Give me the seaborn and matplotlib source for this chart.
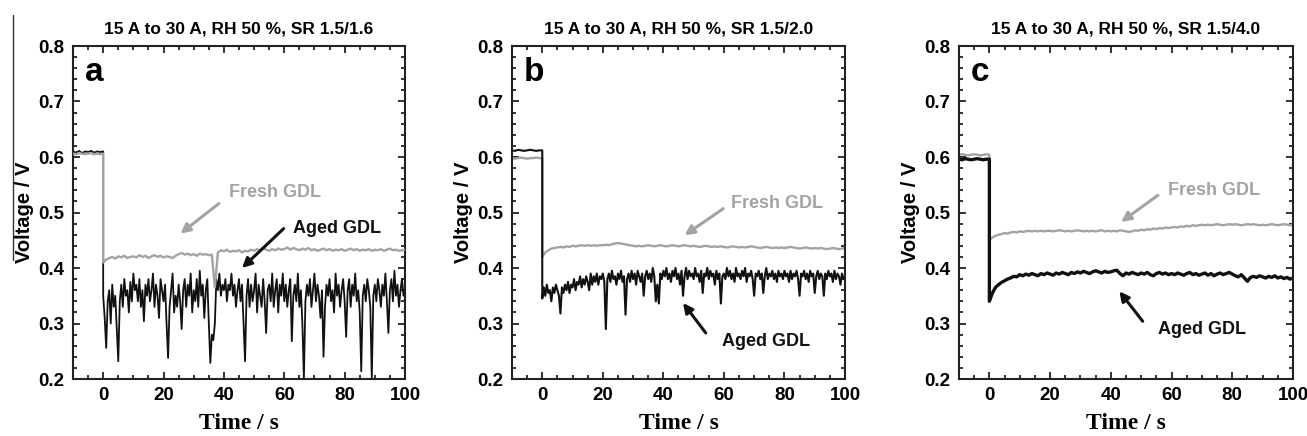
import numpy as np
import pandas as pd
import matplotlib.pyplot as plt
import matplotlib.lines as mlines
from matplotlib.ticker import MultipleLocator
import seaborn as sns

# panel titles and letters
titles = ["15 A to 30 A, RH 50 %, SR 1.5/1.6",
          "15 A to 30 A, RH 50 %, SR 1.5/2.0",
          "15 A to 30 A, RH 50 %, SR 1.5/4.0"]
letters = ["a", "b", "c"]

# sample times (s): before the load step, then after it
t_pre = list(range(-10, 1))                  # 1 s steps
t_post_1s = list(range(0, 101))              # 1 s steps
t_post_05 = [i / 2 for i in range(0, 201)]   # 0.5 s steps

# ---- panel a (SR 1.5/1.6) ----
a_fresh_pre = [0.606, 0.605, 0.607, 0.606, 0.605, 0.606, 0.607, 0.605, 0.606, 0.605, 0.606]
a_aged_pre = [0.610, 0.608, 0.611, 0.607, 0.610, 0.609, 0.611, 0.608, 0.610, 0.609, 0.610]
a_fresh = [0.410, 0.415, 0.418, 0.420, 0.417, 0.421, 0.419, 0.422, 0.418, 0.420,
           0.421, 0.419, 0.423, 0.420, 0.422, 0.418, 0.421, 0.423, 0.420, 0.422,
           0.419, 0.421, 0.420, 0.418, 0.422, 0.425, 0.427, 0.424, 0.426, 0.423,
           0.425, 0.422, 0.426, 0.424, 0.425, 0.423, 0.424, 0.365, 0.428, 0.432,
           0.430, 0.433, 0.429, 0.431, 0.430, 0.432, 0.428, 0.431, 0.430, 0.433,
           0.431, 0.434, 0.432, 0.436, 0.433, 0.431, 0.434, 0.432, 0.435, 0.433,
           0.434, 0.437, 0.433, 0.436, 0.434, 0.432, 0.435, 0.433, 0.436, 0.432,
           0.434, 0.431, 0.433, 0.435, 0.432, 0.434, 0.431, 0.433, 0.432, 0.434,
           0.431, 0.433, 0.435, 0.432, 0.434, 0.431, 0.433, 0.432, 0.434, 0.431,
           0.433, 0.432, 0.434, 0.431, 0.433, 0.435, 0.432, 0.433, 0.431, 0.432, 0.433]
a_aged = [0.35, 0.31, 0.256, 0.34, 0.36, 0.30, 0.37, 0.33, 0.35, 0.29,
          0.232, 0.34, 0.37, 0.33, 0.38, 0.35, 0.36, 0.32, 0.375, 0.34,
          0.39, 0.36, 0.37, 0.34, 0.38, 0.33, 0.36, 0.304, 0.37, 0.35,
          0.38, 0.34, 0.36, 0.39, 0.33, 0.37, 0.35, 0.31, 0.38, 0.36,
          0.34, 0.37, 0.30, 0.238, 0.33, 0.36, 0.39, 0.32, 0.35, 0.33,
          0.37, 0.34, 0.29, 0.36, 0.38, 0.33, 0.37, 0.35, 0.39, 0.32,
          0.36, 0.34, 0.38, 0.33, 0.395, 0.35, 0.37, 0.31, 0.36, 0.38,
          0.30, 0.229, 0.28, 0.27, 0.30, 0.38, 0.36, 0.39, 0.35, 0.37,
          0.36, 0.38, 0.34, 0.37, 0.36, 0.39, 0.35, 0.37, 0.33, 0.36,
          0.38, 0.34, 0.37, 0.30, 0.232, 0.35, 0.38, 0.33, 0.37, 0.34,
          0.36, 0.39, 0.32, 0.37, 0.35, 0.33, 0.38, 0.34, 0.283, 0.36,
          0.37, 0.34, 0.39, 0.33, 0.36, 0.38, 0.32, 0.37, 0.35, 0.39,
          0.34, 0.37, 0.33, 0.36, 0.38, 0.268, 0.35, 0.37, 0.34, 0.39,
          0.33, 0.36, 0.30, 0.20, 0.34, 0.37, 0.35, 0.38, 0.33, 0.36,
          0.39, 0.34, 0.37, 0.35, 0.31, 0.36, 0.24, 0.33, 0.37, 0.35,
          0.38, 0.34, 0.36, 0.32, 0.39, 0.35, 0.37, 0.33, 0.36, 0.38,
          0.34, 0.276, 0.36, 0.38, 0.33, 0.37, 0.35, 0.39, 0.34, 0.36,
          0.32, 0.214, 0.35, 0.37, 0.34, 0.38, 0.36, 0.33, 0.20, 0.35,
          0.37, 0.34, 0.38, 0.36, 0.33, 0.37, 0.35, 0.39, 0.34, 0.283,
          0.36, 0.38, 0.34, 0.395, 0.35, 0.37, 0.33, 0.36, 0.38, 0.35,
          0.36]

# ---- panel b (SR 1.5/2.0) ----
b_fresh_pre = [0.598, 0.597, 0.598, 0.599, 0.598, 0.597, 0.598, 0.598, 0.599, 0.598, 0.598]
b_aged_pre = [0.612, 0.611, 0.613, 0.612, 0.611, 0.612, 0.613, 0.612, 0.611, 0.612, 0.612]
b_fresh = [0.420, 0.428, 0.432, 0.435, 0.436, 0.437, 0.438, 0.437, 0.439, 0.438,
           0.440, 0.439, 0.440, 0.441, 0.440, 0.441, 0.440, 0.441, 0.440, 0.441,
           0.441, 0.442, 0.441, 0.443, 0.444, 0.445, 0.444, 0.443, 0.442, 0.441,
           0.440, 0.439, 0.440, 0.439, 0.440, 0.441, 0.440, 0.439, 0.440, 0.441,
           0.440, 0.439, 0.440, 0.441, 0.440, 0.439, 0.440, 0.441, 0.440, 0.439,
           0.440, 0.439, 0.438, 0.439, 0.440, 0.439, 0.438, 0.439, 0.438, 0.439,
           0.438, 0.437, 0.438, 0.439, 0.438, 0.437, 0.438, 0.437, 0.438, 0.439,
           0.438, 0.437, 0.436, 0.437, 0.438, 0.437, 0.436, 0.437, 0.436, 0.437,
           0.436, 0.437, 0.438, 0.437, 0.436, 0.435, 0.436, 0.437, 0.436, 0.435,
           0.436, 0.435, 0.436, 0.435, 0.434, 0.435, 0.436, 0.435, 0.434, 0.435, 0.436]
b_aged = [0.345, 0.365, 0.35, 0.37, 0.355, 0.36, 0.34, 0.365, 0.355, 0.37,
          0.36, 0.35, 0.318, 0.365, 0.355, 0.37, 0.36, 0.375, 0.355, 0.37,
          0.365, 0.38, 0.36, 0.375, 0.37, 0.385, 0.365, 0.38, 0.37, 0.385,
          0.375, 0.36, 0.39, 0.37, 0.385, 0.375, 0.39, 0.37, 0.385, 0.38,
          0.39, 0.375, 0.29, 0.38, 0.39, 0.375, 0.395, 0.38, 0.385, 0.37,
          0.39, 0.38, 0.395, 0.375, 0.385, 0.316, 0.38, 0.39, 0.375, 0.395,
          0.38, 0.39, 0.37, 0.395, 0.385, 0.375, 0.39, 0.35, 0.385, 0.395,
          0.38, 0.39, 0.375, 0.40, 0.385, 0.34, 0.37, 0.336, 0.39, 0.38,
          0.395, 0.385, 0.40, 0.38, 0.39, 0.375, 0.395, 0.385, 0.40, 0.38,
          0.39, 0.37, 0.395, 0.35, 0.385, 0.40, 0.38, 0.395, 0.385, 0.39,
          0.38, 0.40, 0.385, 0.39, 0.375, 0.395, 0.355, 0.39, 0.385, 0.40,
          0.38, 0.395, 0.385, 0.39, 0.37, 0.395, 0.38, 0.39, 0.336, 0.385,
          0.39, 0.38, 0.40, 0.385, 0.395, 0.38, 0.39, 0.375, 0.40, 0.385,
          0.39, 0.38, 0.395, 0.385, 0.40, 0.375, 0.39, 0.385, 0.395, 0.38,
          0.35, 0.39, 0.385, 0.395, 0.38, 0.39, 0.355, 0.385, 0.40, 0.38,
          0.39, 0.385, 0.395, 0.38, 0.39, 0.375, 0.395, 0.385, 0.39, 0.38,
          0.395, 0.385, 0.39, 0.375, 0.395, 0.38, 0.39, 0.385, 0.395, 0.38,
          0.35, 0.39, 0.385, 0.395, 0.38, 0.39, 0.375, 0.395, 0.385, 0.39,
          0.355, 0.385, 0.395, 0.38, 0.39, 0.385, 0.35, 0.39, 0.38, 0.395,
          0.385, 0.39, 0.375, 0.395, 0.38, 0.39, 0.385, 0.37, 0.39, 0.38,
          0.385]

# ---- panel c (SR 1.5/4.0) ----
c_fresh_pre = [0.604, 0.605, 0.604, 0.603, 0.604, 0.605, 0.604, 0.603, 0.604, 0.605, 0.604]
c_aged_pre = [0.596, 0.595, 0.597, 0.596, 0.595, 0.596, 0.597, 0.596, 0.595, 0.596, 0.596]
c_fresh = [0.450, 0.455, 0.458, 0.460, 0.461, 0.463, 0.462, 0.464, 0.465, 0.464,
           0.466, 0.465, 0.466, 0.467, 0.466, 0.467, 0.466, 0.467, 0.466, 0.467,
           0.467, 0.466, 0.467, 0.468, 0.467, 0.466, 0.467, 0.466, 0.467, 0.468,
           0.467, 0.466, 0.467, 0.466, 0.467, 0.466, 0.467, 0.468, 0.466, 0.467,
           0.466, 0.467, 0.466, 0.468, 0.467, 0.466, 0.465, 0.466, 0.468, 0.467,
           0.469, 0.468, 0.470, 0.469, 0.471, 0.470, 0.472, 0.471, 0.473, 0.472,
           0.473, 0.474, 0.473, 0.475, 0.474, 0.476, 0.475, 0.477, 0.476, 0.477,
           0.478, 0.477, 0.478, 0.477, 0.478, 0.479, 0.478, 0.477, 0.478, 0.479,
           0.478, 0.479, 0.478, 0.477, 0.478, 0.479, 0.478, 0.479, 0.478, 0.477,
           0.478, 0.477, 0.478, 0.479, 0.478, 0.477, 0.478, 0.479, 0.478, 0.477, 0.478]
c_aged = [0.340, 0.355, 0.365, 0.370, 0.374, 0.377, 0.380, 0.382, 0.385, 0.384,
          0.388, 0.386, 0.389, 0.387, 0.390, 0.388, 0.386, 0.390, 0.388, 0.391,
          0.389, 0.387, 0.391, 0.389, 0.392, 0.390, 0.388, 0.392, 0.390, 0.393,
          0.391, 0.394, 0.392, 0.390, 0.393, 0.395, 0.393, 0.391, 0.394, 0.392,
          0.393, 0.395, 0.396, 0.390, 0.386, 0.391, 0.389, 0.392, 0.390, 0.388,
          0.391, 0.389, 0.392, 0.388, 0.386, 0.390, 0.392, 0.389, 0.391, 0.388,
          0.390, 0.388, 0.391, 0.389, 0.387, 0.390, 0.392, 0.388, 0.390, 0.387,
          0.389, 0.391, 0.387, 0.390, 0.386, 0.389, 0.391, 0.388, 0.390, 0.392,
          0.389, 0.386, 0.384, 0.388, 0.382, 0.376, 0.383, 0.385, 0.383, 0.386,
          0.384, 0.382, 0.385, 0.383, 0.386, 0.382, 0.384, 0.381, 0.383, 0.380, 0.382]

panels = [
    (a_fresh_pre, a_fresh, t_post_1s, a_aged_pre, a_aged, t_post_05),
    (b_fresh_pre, b_fresh, t_post_1s, b_aged_pre, b_aged, t_post_05),
    (c_fresh_pre, c_fresh, t_post_1s, c_aged_pre, c_aged, t_post_1s),
]
aged_lw = [1.3, 1.5, 2.4]

# annotation text positions (t, V) and arrow tail -> head
fresh_text = [(57, 0.536), (77.5, 0.516), (74, 0.540)]
fresh_arrow = [((38.3, 0.516), (25.6, 0.462)), ((59.8, 0.507), (47, 0.459)), ((55.5, 0.531), (43.4, 0.483))]
aged_text = [(77.5, 0.471), (74, 0.268), (70, 0.289)]
aged_arrow = [((59.8, 0.471), (46, 0.400)), ((54, 0.283), (46.5, 0.337)), ((50.5, 0.304), (42.8, 0.358))]

sns.set_style("ticks")
plt.rcParams['font.family'] = ['Liberation Sans', 'DejaVu Sans']
plt.rcParams['text.color'] = 'black'
plt.rcParams['xtick.color'] = '#222222'
plt.rcParams['ytick.color'] = '#222222'
plt.rcParams['xtick.labelcolor'] = 'black'
plt.rcParams['ytick.labelcolor'] = 'black'
plt.rcParams['axes.labelcolor'] = 'black'

GRAY = "#a3a3a3"
BLACK = "#111111"

fig = plt.figure(figsize=(13.07, 4.36), dpi=100)
lefts = [73, 512, 959]
widths = [332, 333, 334]

for i in range(3):
    ax = fig.add_axes([lefts[i] / 1307, 57 / 436, widths[i] / 1307, 333 / 436])
    f_pre, f_post, f_t, g_pre, g_post, g_t = panels[i]
    fresh_df = pd.DataFrame({"t": t_pre + f_t, "V": f_pre + f_post})
    aged_df = pd.DataFrame({"t": t_pre + g_t, "V": g_pre + g_post})
    sns.lineplot(data=aged_df, x="t", y="V", sort=False, estimator=None,
                 color=BLACK, lw=aged_lw[i], ax=ax, zorder=2)
    sns.lineplot(data=fresh_df, x="t", y="V", sort=False, estimator=None,
                 color=GRAY, lw=1.7, ax=ax, zorder=3 if i == 0 else 1)

    ax.set_xlim(-10, 100)
    ax.set_ylim(0.2, 0.8)
    ax.xaxis.set_major_locator(MultipleLocator(20))
    ax.xaxis.set_minor_locator(MultipleLocator(5))
    ax.yaxis.set_major_locator(MultipleLocator(0.1))
    ax.yaxis.set_minor_locator(MultipleLocator(0.02))
    ax.tick_params(which="both", direction="in", top=True, right=True, width=1.3)
    ax.tick_params(which="major", length=5, labelsize=13.5, pad=6)
    ax.tick_params(which="minor", length=3)
    for lab in ax.get_xticklabels() + ax.get_yticklabels():
        lab.set_fontweight("bold")
    for sp in ax.spines.values():
        sp.set_linewidth(1.5)
        sp.set_color("#222222")

    ax.set_xlabel("Time / s", fontsize=17, fontweight="bold",
                  family=["Liberation Serif", "DejaVu Serif"], labelpad=6)
    ax.set_ylabel("Voltage / V", fontsize=14.5, fontweight="bold", labelpad=3)
    ax.set_title(titles[i], fontsize=12.5, fontweight="bold", pad=9)

    ax.text(-6, 0.752, letters[i], fontsize=24, fontweight="bold", va="center", ha="left")

    ax.text(*fresh_text[i], "Fresh GDL", color=GRAY, fontsize=13,
            fontweight="bold", ha="center", va="center")
    ax.annotate("", xy=fresh_arrow[i][1], xytext=fresh_arrow[i][0],
                arrowprops=dict(arrowstyle="-|>", color=GRAY, lw=2.2,
                                mutation_scale=14, shrinkA=0, shrinkB=0))
    ax.text(*aged_text[i], "Aged GDL", color=BLACK, fontsize=13,
            fontweight="bold", ha="center", va="center")
    ax.annotate("", xy=aged_arrow[i][1], xytext=aged_arrow[i][0],
                arrowprops=dict(arrowstyle="-|>", color=BLACK, lw=2.2,
                                mutation_scale=14, shrinkA=0, shrinkB=0))

# stray scan line at the left edge of the source figure
fig.add_artist(mlines.Line2D([13 / 1307, 13 / 1307], [1 - 15 / 436, 1 - 260 / 436],
                             color="#333333", lw=1))

fig.savefig("out.png", dpi=100)
